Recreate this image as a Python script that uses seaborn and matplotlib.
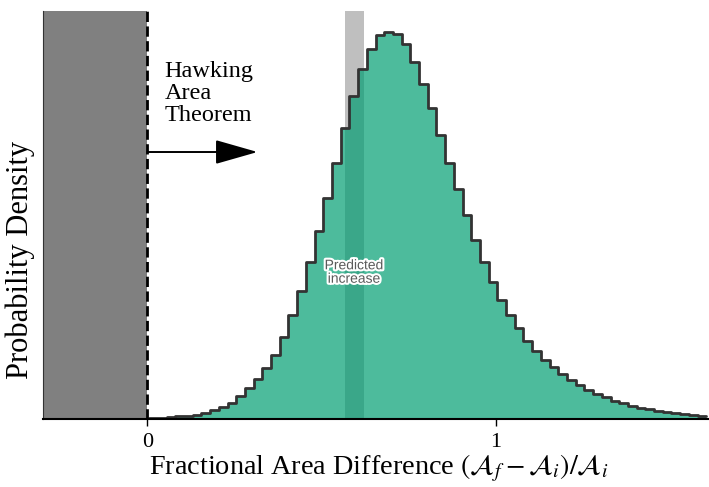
import numpy as np
import pandas as pd
import matplotlib
matplotlib.use("Agg")
import matplotlib.pyplot as plt
import matplotlib.patheffects as pe
import seaborn as sns

# histogram: bin width 0.025, first edge at 0.005
bin_width = 0.025
first_edge = 0.005
density = [0.7, 1.0, 2.0, 2.7, 3.3, 4.3, 6.0, 8.7, 11.7, 16.0,
           22.7, 30.7, 40.0, 51.0, 64.3, 82.0, 103.7, 127.7, 157.3, 188.0,
           221.3, 256.3, 291.3, 323.0, 349.7, 369.7, 384.0, 387.3, 384.7, 374.7,
           357.3, 335.0, 310.7, 284.0, 256.5, 230.0, 204.0, 179.0, 157.3, 136.7,
           119.0, 104.0, 90.7, 78.3, 68.3, 59.0, 51.7, 44.7, 39.0, 33.7,
           29.0, 25.0, 21.7, 18.3, 15.7, 13.3, 11.3, 9.7, 8.0, 6.7,
           5.7, 4.7, 3.7, 3.0]

predicted_lo = 0.566
predicted_hi = 0.621
forbidden_lo = -0.3
arrow_end = 0.316

edges = first_edge + bin_width * np.arange(len(density) + 1)
hist = pd.DataFrame({"frac": 0.5 * (edges[:-1] + edges[1:]), "density": density})

sns.set_style("ticks")
plt.rcParams["font.family"] = ["Liberation Serif", "DejaVu Serif"]
plt.rcParams["mathtext.fontset"] = "stix"
plt.rcParams["text.color"] = "k"
plt.rcParams["axes.labelcolor"] = "k"
plt.rcParams["xtick.color"] = "k"

fig = plt.figure(figsize=(7.09, 4.87), dpi=100)
ax = fig.add_axes([0.0607, 0.1396, 0.9379, 0.8378])

ax.axvspan(predicted_lo, predicted_hi, color="#bfbfbf", lw=0, zorder=0)
ax.axvspan(forbidden_lo, 0, color="#808080", lw=0, zorder=0)
ax.axvline(0, color="k", ls="--", lw=2, zorder=3)

sns.histplot(data=hist, x="frac", weights="density", bins=list(edges), element="step",
             fill=True, color="#029e73", alpha=0.7, linewidth=0, ax=ax)
sns.histplot(data=hist, x="frac", weights="density", bins=list(edges), element="step",
             fill=False, color="#333333", linewidth=2, ax=ax)

ax.annotate("", xy=(arrow_end, 267), xytext=(0, 267),
            arrowprops=dict(arrowstyle="-|>,head_length=1.33,head_width=0.38",
                            mutation_scale=20, color="k", lw=1.4,
                            shrinkA=0, shrinkB=0))
ax.text(0.049, 358, "Hawking\nArea\nTheorem", fontsize=17.5, va="top", ha="left",
        linespacing=1.07)
ax.text(0.5935, 147, "Predicted\nincrease", fontsize=10, ha="center", va="center",
        family=["Liberation Sans", "DejaVu Sans"], color="#5a5a5a", linespacing=0.95,
        path_effects=[pe.withStroke(linewidth=3, foreground="white")], zorder=5)

ax.set_xlim(-0.3, 1.61)
ax.set_ylim(0, 408)
ax.set_xticks([0, 1])
ax.set_xticklabels(["0", "1"], fontsize=16)
ax.set_yticks([])
ax.tick_params(axis="x", length=5, width=1, color="k", pad=5)
ax.set_xlabel(r"Fractional Area Difference $(\mathcal{A}_f - \mathcal{A}_i)/\mathcal{A}_i$",
              fontsize=20.3)
ax.xaxis.set_label_coords(0.505, -0.082)
ax.set_ylabel("Probability Density", fontsize=22)
ax.yaxis.set_label_coords(-0.012, 0.39)
for side in ["top", "right"]:
    ax.spines[side].set_visible(False)
ax.spines["bottom"].set_color("k")
ax.spines["bottom"].set_linewidth(1.5)
ax.spines["left"].set_color("#333333")

fig.savefig("out.png", dpi=100)
